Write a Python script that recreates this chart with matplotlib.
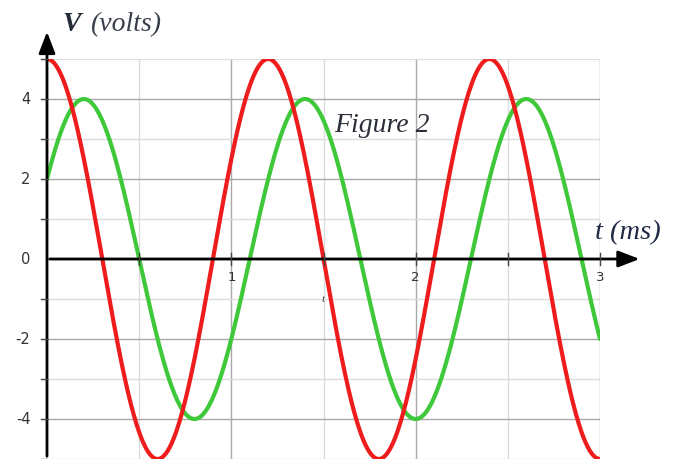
import numpy as np
import matplotlib.pyplot as plt

# wave parameters (ms, volts)
red_amp = 5.0
green_amp = 4.0
period = 1.2
red_peak = 0.0
green_peak = 0.2

ytick_vals = [-4, -2, 0, 2, 4]
xtick_vals = [1, 2, 3]

t = np.linspace(0, 3, 600)
red = red_amp * np.cos(2 * np.pi * (t - red_peak) / period)
green = green_amp * np.cos(2 * np.pi * (t - green_peak) / period)

fig = plt.figure(figsize=(6.74, 4.59), dpi=100)
ax = fig.add_axes([47 / 674, 0.0, 553 / 674, 400 / 459])
ax.set_xlim(0, 3)
ax.set_ylim(-5, 5)

# grid: light at halves / odd values, darker at the labelled ones
for x in np.arange(0.5, 3.01, 0.5):
    c = '#a8a8a8' if x % 1 == 0 else '#dcdcdc'
    ax.axvline(x, color=c, lw=1, zorder=0)
for y in range(-5, 6):
    c = '#a8a8a8' if y % 2 == 0 else '#dcdcdc'
    ax.axhline(y, color=c, lw=1, zorder=0)

ax.plot(t, red, color='#ee1c1c', lw=3, zorder=3, solid_capstyle='round')
ax.plot(t, green, color='#3ec83a', lw=3, zorder=2, solid_capstyle='round')

for s in ax.spines.values():
    s.set_visible(False)
ax.set_xticks([])
ax.set_yticks([])

# axes with arrows
ax.annotate('', xy=(3.23, 0), xytext=(0, 0), annotation_clip=False,
            arrowprops=dict(arrowstyle='-|>,head_length=1.3,head_width=0.5', color='black', lw=2))
ax.annotate('', xy=(0, 5.75), xytext=(0, -5), annotation_clip=False,
            arrowprops=dict(arrowstyle='-|>,head_length=1.3,head_width=0.5', color='black', lw=2))

# tick marks
for y in range(-5, 6):
    if y != 0:
        ax.plot([-0.035, 0], [y, y], color='#444444', lw=1, clip_on=False, zorder=4)
for x in np.arange(0.5, 3.01, 0.5):
    ax.plot([x, x], [-0.15, 0.15], color='#444444', lw=1, clip_on=False, zorder=4)

for y in ytick_vals:
    ax.text(-0.09, y, str(y), ha='right', va='center', fontsize=10.5, color='#333333')
for x in xtick_vals:
    ax.text(x, -0.3, str(x), ha='center', va='top', fontsize=9.5, color='#333333')

ax.text(0.085, 5.7, 'V', fontsize=20, family='Liberation Serif', style='italic',
        weight='bold', color='#252b3a', ha='left', va='baseline')
ax.text(0.235, 5.7, '(volts)', fontsize=20, family='Liberation Serif', style='italic',
        color='#3a3f4c', ha='left', va='baseline')
ax.text(3.15, 0.5, 't (ms)', fontsize=20.5, family='Liberation Serif', style='italic',
        color='#1f2a44', ha='center', va='baseline')
ax.text(1.56, 3.35, 'Figure 2', fontsize=20, family='Liberation Serif', style='italic',
        color='#2a2e38', ha='left', va='center')
ax.text(1.5, -1.0, 't', fontsize=8, family='Liberation Serif', style='italic',
        color='#444444', ha='center', va='center')

fig.savefig('out.png', dpi=100)
